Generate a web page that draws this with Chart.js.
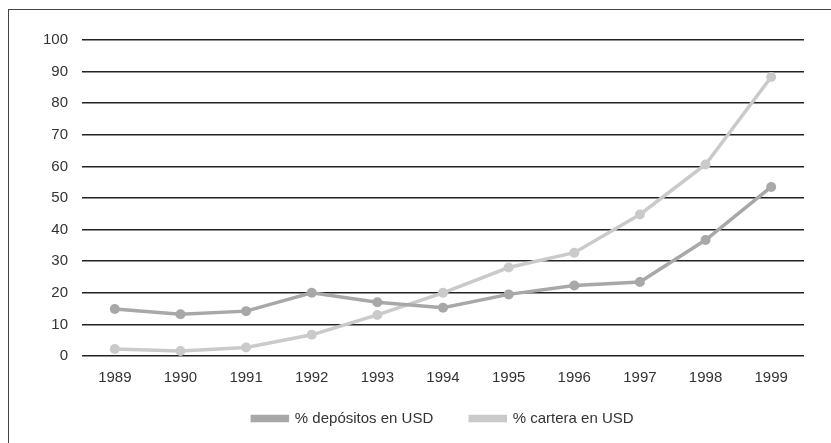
<!DOCTYPE html>
<html>
<head>
<meta charset="utf-8">
<script src="https://cdn.jsdelivr.net/npm/chart.js@4/dist/chart.umd.min.js"></script>
<style>
  html, body { margin: 0; padding: 0; background: #fff; }
  #frame {
    position: absolute; left: 8px; top: 9px; width: 823px; height: 434px;
    border-top: 1.5px solid #444; border-left: 1.5px solid #444;
  }
  #wrap { position: absolute; left: 0; top: 0; width: 831px; height: 443px; }
</style>
</head>
<body>
<div id="frame"></div>
<div id="wrap"><canvas id="myChart" width="831" height="443"></canvas></div>
<script>
const years = ["1989", "1990", "1991", "1992", "1993", "1994", "1995", "1996", "1997", "1998", "1999"];
const depositos = [14.9, 13.2, 14.2, 20.0, 17.0, 15.3, 19.5, 22.3, 23.4, 36.7, 53.5];
const cartera = [2.2, 1.6, 2.7, 6.7, 13.0, 20.0, 28.0, 32.7, 44.8, 60.6, 88.3];
const yTicks = [0, 10, 20, 30, 40, 50, 60, 70, 80, 90, 100];

const FONT = "'Liberation Sans', Arial, sans-serif";

// center the legend under the plot area and set its row height
const legendShift = {
    id: "legendShift",
    afterLayout: function (chart) {
        const lg = chart.legend;
        const dx = (chart.chartArea.left + chart.chartArea.right) / 2 - (lg.left + lg.right) / 2;
        lg.left += dx;
        lg.right += dx;
        lg.top = 374;
        lg.bottom = 443;
    },
};

document.addEventListener("DOMContentLoaded", function () {
    const ctx = document.getElementById("myChart").getContext("2d");
    const myChart = new Chart(ctx, {
        type: "line",
        data: {
            labels: years,
            datasets: [
                {
                    label: "% depósitos en USD",
                    data: depositos,
                    borderColor: "#a8a8ab",
                    backgroundColor: "#a8a8ab",
                    borderWidth: 3.5,
                    pointRadius: 5,
                    pointBackgroundColor: "#a8a8ab",
                    pointBorderWidth: 0,
                    fill: false,
                },
                {
                    label: "% cartera en USD",
                    data: cartera,
                    borderColor: "#cacacb",
                    backgroundColor: "#cacacb",
                    borderWidth: 3.5,
                    pointRadius: 5,
                    pointBackgroundColor: "#cacacb",
                    pointBorderWidth: 0,
                    fill: false,
                },
            ],
        },
        plugins: [legendShift],
        options: {
            responsive: false,
            animation: false,
            layout: { padding: { left: 10, right: 27, top: 40, bottom: 1 } },
            plugins: {
                tooltip: { enabled: false },
                legend: {
                    position: "bottom",
                    maxHeight: 51,
                    labels: {
                        boxWidth: 35,
                        boxHeight: 4,
                        padding: 37,
                        color: "#333",
                        font: { family: FONT, size: 15 },
                    },
                },
            },
            scales: {
                x: {
                    offset: true,
                    grid: { display: false, drawTicks: false },
                    border: { display: false },
                    ticks: {
                        color: "#333",
                        font: { family: FONT, size: 15 },
                        maxRotation: 0,
                        autoSkip: false,
                        padding: 13,
                    },
                    afterFit: function (scale) { scale.height = 35; },
                },
                y: {
                    min: 0,
                    max: 100,
                    afterBuildTicks: function (scale) {
                        scale.ticks = yTicks.map(v => ({ value: v }));
                    },
                    grid: { color: "#222", lineWidth: 1.5, drawTicks: false },
                    border: { display: false },
                    ticks: {
                        color: "#333",
                        font: { family: FONT, size: 15 },
                        padding: 14,
                    },
                    afterFit: function (scale) { scale.width = 72; },
                },
            },
        },
    });
});
</script>
</body>
</html>
